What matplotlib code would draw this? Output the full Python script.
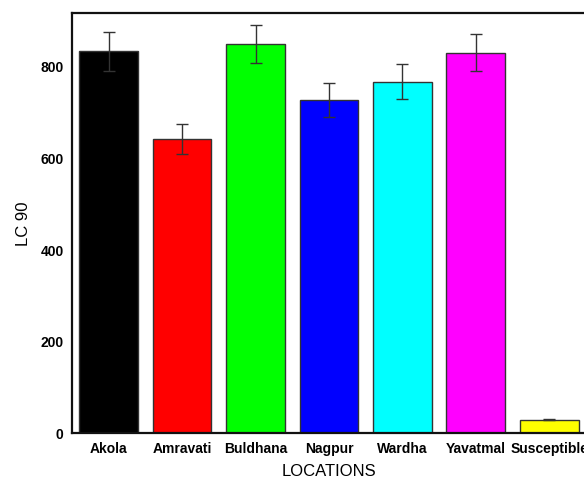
import matplotlib
matplotlib.use("Agg")
import matplotlib.pyplot as plt
import numpy as np

plt.rcParams['font.family'] = ['Liberation Sans', 'DejaVu Sans']

locations = ['Akola', 'Amravati', 'Buldhana', 'Nagpur', 'Wardha', 'Yavatmal', 'Susceptible']
lc90 = [834, 643, 850, 727, 768, 831, 30]
err = [42, 33, 42, 37, 39, 41, 2]
colors = ['#000000', '#ff0000', '#00ff00', '#0000ff', '#00ffff', '#ff00ff', '#ffff00']

fig = plt.figure(figsize=(5.84, 4.8), dpi=100)
ax = fig.add_axes([0.1233, 0.0973, 0.880, 0.875])

x = np.arange(len(locations))
ax.bar(x, lc90, width=0.8, color=colors, edgecolor='#333333', linewidth=1.0,
       yerr=err, capsize=4, error_kw=dict(ecolor='#333333', elinewidth=1.0, capthick=1.0))

ax.set_xlim(-0.5, len(locations) - 0.5)
ax.set_ylim(0, 917)
ax.set_yticks([0, 200, 400, 600, 800])
ax.set_xticks(x)
ax.set_xticklabels(locations)
ax.tick_params(length=0, labelsize=10, pad=6)
for lbl in ax.get_xticklabels() + ax.get_yticklabels():
    lbl.set_fontweight('bold')

for s in ax.spines.values():
    s.set_linewidth(1.6)
    s.set_color('#111111')

ax.set_ylabel('LC 90', fontsize=12, labelpad=7)
ax.set_xlabel('LOCATIONS', fontsize=12, labelpad=6)

fig.savefig('out.png', dpi=100)
